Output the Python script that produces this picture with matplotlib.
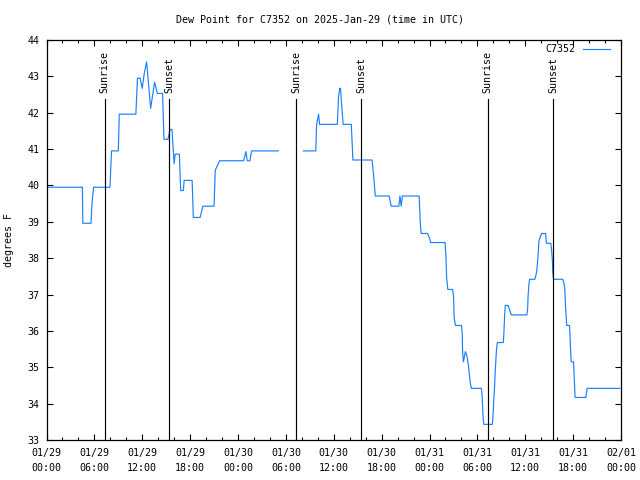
import numpy as np
import matplotlib
matplotlib.use("Agg")
import matplotlib.pyplot as plt
from matplotlib.ticker import MultipleLocator, FixedLocator

# hours since 2025-01-29 00:00 UTC, dew point (F)
hours_a = [0.0, 4.5, 4.55, 5.58, 5.7, 5.9, 7.95, 8.15, 9.0, 9.12, 11.2, 11.35, 11.4, 11.72,
           12.0, 12.25, 12.55, 13.05, 13.3, 13.55, 13.9, 14.55, 14.72, 15.22, 15.48, 15.72,
           16.0, 16.12, 16.65, 16.82, 17.15, 17.25, 18.25, 18.4, 19.25, 19.6, 21.0, 21.15,
           21.7, 24.7, 25.0, 25.15, 25.5, 25.7, 29.05]
dew_a = [39.95, 39.95, 38.96, 38.96, 39.5, 39.95, 39.95, 40.95, 40.95, 41.96, 41.96, 42.72,
         42.95, 42.95, 42.67, 43.08, 43.4, 42.12, 42.49, 42.84, 42.53, 42.53, 41.27, 41.27,
         41.54, 41.54, 40.6, 40.86, 40.86, 39.86, 39.86, 40.14, 40.14, 39.12, 39.12, 39.43,
         39.43, 40.42, 40.68, 40.68, 40.93, 40.68, 40.68, 40.95, 40.95]

hours_b = [32.2, 33.75, 33.85, 34.1, 34.22, 36.45, 36.6, 36.75, 36.85, 37.0, 37.18, 38.2,
           38.4, 40.8, 41.05, 41.2, 42.95, 43.2, 44.15, 44.3, 44.45, 44.6, 46.7, 46.85,
           46.95, 47.75, 48.0, 48.15, 49.95, 50.05, 50.15, 50.3, 50.9, 51.0, 51.1, 51.25,
           52.0, 52.1, 52.15, 52.25, 52.5, 52.7, 52.9, 53.0, 53.12, 53.25, 54.5, 54.6, 54.7,
           54.8, 55.88, 56.0, 56.05, 56.15, 56.25, 56.38, 56.5, 57.25, 57.32, 57.42, 57.5,
           57.85, 58.05, 58.25, 60.2, 60.3, 60.35, 60.45, 60.55, 61.2, 61.35, 61.45, 61.6,
           61.7, 61.85, 62.05, 62.55, 62.65, 63.2, 63.3, 63.4, 63.45, 63.55, 64.7, 64.85,
           64.95, 65.05, 65.2, 65.55, 65.65, 65.75, 66.05, 66.15, 66.25, 67.6, 67.75, 71.85]
dew_b = [40.95, 40.95, 41.68, 41.96, 41.68, 41.68, 42.44, 42.67, 42.67, 42.18, 41.68, 41.68,
         40.7, 40.7, 40.15, 39.71, 39.71, 39.43, 39.43, 39.71, 39.43, 39.71, 39.71, 38.96,
         38.68, 38.68, 38.55, 38.43, 38.43, 38.08, 37.46, 37.14, 37.14, 36.99, 36.35, 36.15,
         36.15, 35.93, 35.43, 35.15, 35.43, 35.3, 35.02, 34.79, 34.56, 34.42, 34.42, 34.19,
         33.69, 33.43, 33.43, 33.82, 34.08, 34.46, 34.93, 35.43, 35.68, 35.68, 35.93, 36.44,
         36.7, 36.7, 36.57, 36.44, 36.44, 36.6, 36.94, 37.26, 37.42, 37.42, 37.54, 37.66,
         38.04, 38.45, 38.57, 38.68, 38.68, 38.41, 38.41, 38.22, 37.95, 37.6, 37.42, 37.42,
         37.31, 37.17, 36.66, 36.15, 36.15, 35.66, 35.15, 35.15, 34.67, 34.17, 34.17, 34.42,
         34.42]

sunrise_hours = [7.27, 31.29, 55.27]
sunset_hours = [15.4, 39.45, 63.5]

tick_hours = list(range(0, 73, 6))
tick_labels = ["01/29\n00:00", "01/29\n06:00", "01/29\n12:00", "01/29\n18:00",
               "01/30\n00:00", "01/30\n06:00", "01/30\n12:00", "01/30\n18:00",
               "01/31\n00:00", "01/31\n06:00", "01/31\n12:00", "01/31\n18:00",
               "02/01\n00:00"]
y_ticks = list(range(33, 45))

title = "Dew Point for C7352 on 2025-Jan-29 (time in UTC)"
series_name = "C7352"

plt.rcParams['font.family'] = ['DejaVu Sans Mono']
fs = 7.2

fig = plt.figure(figsize=(6.4, 4.8), dpi=100)
ax = fig.add_axes([46.5 / 640, 1 - 440 / 480, (621 - 46.5) / 640, 400 / 480])

color = '#1a80ff'
hours = hours_a + [np.nan] + hours_b
dew = dew_a + [np.nan] + dew_b
ax.plot(hours, dew, color=color, lw=0.85, label=series_name)

ax.set_xlim(0, 72)
ax.set_ylim(33, 44)

for h in sunrise_hours:
    ax.axvline(h, ymin=0, ymax=0.8525, color='black', lw=0.85)
    ax.text(h, 42.55, "Sunrise", rotation=90, ha='center', va='bottom', fontsize=fs)
for h in sunset_hours:
    ax.axvline(h, ymin=0, ymax=0.8525, color='black', lw=0.85)
    ax.text(h, 42.55, "Sunset", rotation=90, ha='center', va='bottom', fontsize=fs)

ax.xaxis.set_major_locator(FixedLocator(tick_hours))
ax.set_xticklabels(tick_labels, fontsize=fs, linespacing=1.6)
ax.xaxis.set_minor_locator(MultipleLocator(2))
ax.yaxis.set_major_locator(FixedLocator(y_ticks))
ax.set_yticklabels([str(v) for v in y_ticks], fontsize=fs)

ax.tick_params(which='both', direction='in', top=True, right=True, width=0.8)
ax.tick_params(which='major', length=4.5)
ax.tick_params(axis='x', which='major', pad=6)
ax.tick_params(axis='y', which='major', pad=5)
ax.tick_params(which='minor', length=2.5)
for s in ax.spines.values():
    s.set_linewidth(0.9)

ax.set_ylabel("degrees F", fontsize=fs, labelpad=10)
fig.text(0.5, 1 - 19 / 480, title, ha='center', va='center', fontsize=fs)

# legend (gnuplot style)
fig.text(575 / 640, 1 - 49 / 480, series_name, ha='right', va='center', fontsize=fs)
fig.add_artist(plt.Line2D([583 / 640, 610 / 640], [1 - 49 / 480, 1 - 49 / 480],
                          color=color, lw=0.85, transform=fig.transFigure))

fig.savefig("out.png", dpi=100)
